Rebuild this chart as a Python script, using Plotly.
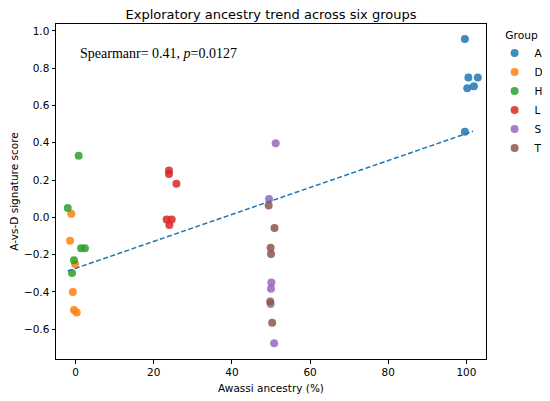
import plotly.graph_objects as go

# values
groups = ["A", "D", "H", "L", "S", "T"]
colors = ["#1f77b4", "#ff7f0e", "#2ca02c", "#d62728", "#9467bd", "#8c564b"]

a_x = [99.6, 100.5, 102.9, 100.2, 101.9, 99.6]
a_y = [0.957, 0.750, 0.750, 0.693, 0.704, 0.459]

d_x = [-1.1, -1.4, -0.1, -0.7, -0.4, 0.3]
d_y = [0.019, -0.125, -0.250, -0.400, -0.497, -0.511]

h_x = [0.8, -2.0, 1.4, 2.4, -0.4, -0.9]
h_y = [0.330, 0.050, -0.166, -0.166, -0.230, -0.298]

l_x = [23.9, 23.9, 25.8, 23.3, 24.6, 24.0]
l_y = [0.252, 0.232, 0.180, -0.011, -0.011, -0.041]

s_x = [51.2, 49.5, 50.1, 50.0, 49.9, 50.8]
s_y = [0.397, 0.098, -0.350, -0.383, -0.465, -0.675]

t_x = [49.4, 50.9, 49.9, 50.0, 49.8, 50.3]
t_y = [0.064, -0.057, -0.163, -0.197, -0.452, -0.565]

trend_x = [-2.0, 101.7]
trend_y = [-0.288, 0.462]

xs = [a_x, d_x, h_x, l_x, s_x, t_x]
ys = [a_y, d_y, h_y, l_y, s_y, t_y]

fig = go.Figure()

for name, col, x, y in zip(groups, colors, xs, ys):
    fig.add_trace(go.Scatter(
        x=x, y=y, mode="markers", name=name,
        marker=dict(color=col, size=8, opacity=0.85, line=dict(width=0)),
    ))

# dashed trend line, no legend entry
fig.add_trace(go.Scatter(
    x=trend_x, y=trend_y, mode="lines", showlegend=False,
    line=dict(color="#1f77b4", width=1.5, dash="5px,2.5px"),
))

fig.add_annotation(
    text="Spearmanr= 0.41, <i>p</i>=0.0127",
    xref="paper", yref="paper", x=0.05, y=0.913,
    xanchor="left", yanchor="middle", showarrow=False,
    font=dict(family="Liberation Serif", size=14, color="black"),
)

axis_style = dict(
    showgrid=False, zeroline=False, showline=True, mirror=True,
    linecolor="black", linewidth=1, ticks="outside", ticklen=3.5,
    tickcolor="black", tickfont=dict(size=10.5, color="black"),
    automargin=False,
)

# page body has an 8px margin, so the figure is 8px smaller each way
fig.update_layout(
    width=542, height=393,
    paper_bgcolor="white", plot_bgcolor="white",
    font=dict(family="DejaVu Sans", color="black"),
    margin=dict(l=48, r=64, t=16, b=42, autoexpand=False),
    title=dict(text="Exploratory ancestry trend across six groups",
               xref="paper", x=0.5, xanchor="center",
               yref="container", y=0.983, yanchor="middle",
               font=dict(size=13, color="black")),
    xaxis=dict(axis_style, range=[-5, 105], tickvals=[0, 20, 40, 60, 80, 100],
               title=dict(text="Awassi ancestry (%)", font=dict(size=10.5), standoff=7)),
    yaxis=dict(axis_style, range=[-0.76, 1.0375],
               tickvals=[-0.6, -0.4, -0.2, 0.0, 0.2, 0.4, 0.6, 0.8, 1.0], tickformat=".1f",
               title=dict(text="A-vs-D signature score", font=dict(size=10.5), standoff=4)),
    legend=dict(title=dict(text="Group", font=dict(size=10.7), side="top center"),
                font=dict(size=10.5),
                x=1.02, xanchor="left", y=0.998, yanchor="top",
                bgcolor="rgba(0,0,0,0)"),
)

fig.write_html("out.html")
